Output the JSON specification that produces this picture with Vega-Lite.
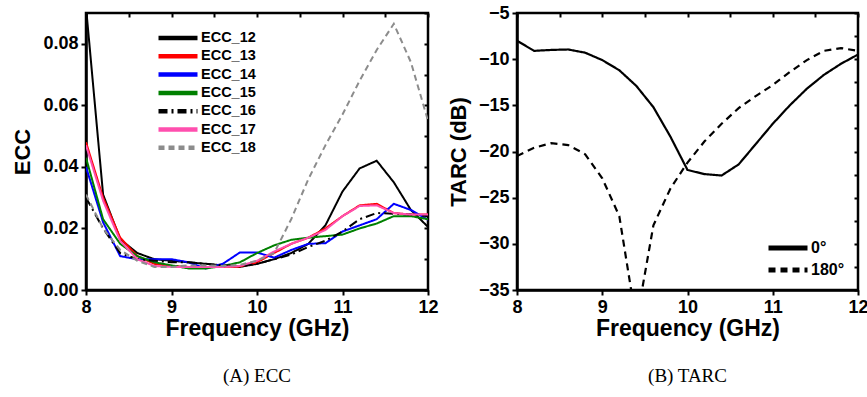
{
  "$schema": "https://vega.github.io/schema/vega-lite/v6.json",
  "background": "white",
  "padding": {"left": 10, "top": 2, "right": 8, "bottom": 5},
  "spacing": 6,
  "resolve": {"scale": {"strokeDash": "independent", "color": "independent"}, "legend": {"strokeDash": "independent", "color": "independent"}},
  "config": {
    "view": {"stroke": "black", "strokeWidth": 2.5},
    "axis": {
      "grid": false, "domainColor": "black", "domainWidth": 2.5,
      "tickColor": "black", "tickWidth": 2, "tickSize": 5,
      "labelFont": "Liberation Sans", "labelFontSize": 18, "labelFontWeight": "bold", "labelColor": "black",
      "labelPadding": 3, "labelFlush": false,
      "titleFont": "Liberation Sans", "titleFontSize": 22, "titleFontWeight": "bold", "titleColor": "black"
    },
    "title": {"font": "Liberation Serif", "fontSize": 19, "fontWeight": "normal", "color": "black"}
  },
  "datasets": {
    "ecc": [
      {"f": 8.0, "s": "ECC_12", "v": 0.092}, {"f": 8.2, "s": "ECC_12", "v": 0.031}, {"f": 8.4, "s": "ECC_12", "v": 0.0165}, {"f": 8.6, "s": "ECC_12", "v": 0.012}, {"f": 8.8, "s": "ECC_12", "v": 0.010}, {"f": 9.0, "s": "ECC_12", "v": 0.0095}, {"f": 9.2, "s": "ECC_12", "v": 0.009}, {"f": 9.4, "s": "ECC_12", "v": 0.0085}, {"f": 9.6, "s": "ECC_12", "v": 0.008}, {"f": 9.8, "s": "ECC_12", "v": 0.0075}, {"f": 10.0, "s": "ECC_12", "v": 0.0085}, {"f": 10.2, "s": "ECC_12", "v": 0.010}, {"f": 10.4, "s": "ECC_12", "v": 0.012}, {"f": 10.6, "s": "ECC_12", "v": 0.015}, {"f": 10.8, "s": "ECC_12", "v": 0.021}, {"f": 11.0, "s": "ECC_12", "v": 0.032}, {"f": 11.2, "s": "ECC_12", "v": 0.0395}, {"f": 11.4, "s": "ECC_12", "v": 0.042}, {"f": 11.6, "s": "ECC_12", "v": 0.035}, {"f": 11.8, "s": "ECC_12", "v": 0.026}, {"f": 12.0, "s": "ECC_12", "v": 0.0205},
      {"f": 8.0, "s": "ECC_13", "v": 0.048}, {"f": 8.2, "s": "ECC_13", "v": 0.030}, {"f": 8.4, "s": "ECC_13", "v": 0.017}, {"f": 8.6, "s": "ECC_13", "v": 0.011}, {"f": 8.8, "s": "ECC_13", "v": 0.0085}, {"f": 9.0, "s": "ECC_13", "v": 0.0078}, {"f": 9.2, "s": "ECC_13", "v": 0.0075}, {"f": 9.4, "s": "ECC_13", "v": 0.0075}, {"f": 9.6, "s": "ECC_13", "v": 0.0075}, {"f": 9.8, "s": "ECC_13", "v": 0.0076}, {"f": 10.0, "s": "ECC_13", "v": 0.009}, {"f": 10.2, "s": "ECC_13", "v": 0.012}, {"f": 10.4, "s": "ECC_13", "v": 0.015}, {"f": 10.6, "s": "ECC_13", "v": 0.017}, {"f": 10.8, "s": "ECC_13", "v": 0.020}, {"f": 11.0, "s": "ECC_13", "v": 0.024}, {"f": 11.2, "s": "ECC_13", "v": 0.0275}, {"f": 11.4, "s": "ECC_13", "v": 0.028}, {"f": 11.6, "s": "ECC_13", "v": 0.025}, {"f": 11.8, "s": "ECC_13", "v": 0.0245}, {"f": 12.0, "s": "ECC_13", "v": 0.0245},
      {"f": 8.0, "s": "ECC_14", "v": 0.040}, {"f": 8.2, "s": "ECC_14", "v": 0.022}, {"f": 8.4, "s": "ECC_14", "v": 0.011}, {"f": 8.6, "s": "ECC_14", "v": 0.010}, {"f": 8.8, "s": "ECC_14", "v": 0.010}, {"f": 9.0, "s": "ECC_14", "v": 0.010}, {"f": 9.2, "s": "ECC_14", "v": 0.009}, {"f": 9.4, "s": "ECC_14", "v": 0.007}, {"f": 9.6, "s": "ECC_14", "v": 0.0085}, {"f": 9.8, "s": "ECC_14", "v": 0.0122}, {"f": 10.0, "s": "ECC_14", "v": 0.0122}, {"f": 10.2, "s": "ECC_14", "v": 0.0105}, {"f": 10.4, "s": "ECC_14", "v": 0.013}, {"f": 10.6, "s": "ECC_14", "v": 0.015}, {"f": 10.8, "s": "ECC_14", "v": 0.0152}, {"f": 11.0, "s": "ECC_14", "v": 0.019}, {"f": 11.2, "s": "ECC_14", "v": 0.021}, {"f": 11.4, "s": "ECC_14", "v": 0.023}, {"f": 11.6, "s": "ECC_14", "v": 0.028}, {"f": 11.8, "s": "ECC_14", "v": 0.026}, {"f": 12.0, "s": "ECC_14", "v": 0.0228},
      {"f": 8.0, "s": "ECC_15", "v": 0.043}, {"f": 8.2, "s": "ECC_15", "v": 0.023}, {"f": 8.4, "s": "ECC_15", "v": 0.015}, {"f": 8.6, "s": "ECC_15", "v": 0.011}, {"f": 8.8, "s": "ECC_15", "v": 0.009}, {"f": 9.0, "s": "ECC_15", "v": 0.008}, {"f": 9.2, "s": "ECC_15", "v": 0.007}, {"f": 9.4, "s": "ECC_15", "v": 0.007}, {"f": 9.6, "s": "ECC_15", "v": 0.0078}, {"f": 9.8, "s": "ECC_15", "v": 0.009}, {"f": 10.0, "s": "ECC_15", "v": 0.012}, {"f": 10.2, "s": "ECC_15", "v": 0.0145}, {"f": 10.4, "s": "ECC_15", "v": 0.0163}, {"f": 10.6, "s": "ECC_15", "v": 0.017}, {"f": 10.8, "s": "ECC_15", "v": 0.0175}, {"f": 11.0, "s": "ECC_15", "v": 0.018}, {"f": 11.2, "s": "ECC_15", "v": 0.020}, {"f": 11.4, "s": "ECC_15", "v": 0.0216}, {"f": 11.6, "s": "ECC_15", "v": 0.024}, {"f": 11.8, "s": "ECC_15", "v": 0.024}, {"f": 12.0, "s": "ECC_15", "v": 0.023},
      {"f": 8.0, "s": "ECC_16", "v": 0.030}, {"f": 8.2, "s": "ECC_16", "v": 0.020}, {"f": 8.4, "s": "ECC_16", "v": 0.012}, {"f": 8.6, "s": "ECC_16", "v": 0.010}, {"f": 8.8, "s": "ECC_16", "v": 0.0095}, {"f": 9.0, "s": "ECC_16", "v": 0.009}, {"f": 9.2, "s": "ECC_16", "v": 0.009}, {"f": 9.4, "s": "ECC_16", "v": 0.0085}, {"f": 9.6, "s": "ECC_16", "v": 0.008}, {"f": 9.8, "s": "ECC_16", "v": 0.0078}, {"f": 10.0, "s": "ECC_16", "v": 0.0085}, {"f": 10.2, "s": "ECC_16", "v": 0.0100}, {"f": 10.4, "s": "ECC_16", "v": 0.0115}, {"f": 10.6, "s": "ECC_16", "v": 0.014}, {"f": 10.8, "s": "ECC_16", "v": 0.016}, {"f": 11.0, "s": "ECC_16", "v": 0.019}, {"f": 11.2, "s": "ECC_16", "v": 0.023}, {"f": 11.4, "s": "ECC_16", "v": 0.025}, {"f": 11.6, "s": "ECC_16", "v": 0.0248}, {"f": 11.8, "s": "ECC_16", "v": 0.0245}, {"f": 12.0, "s": "ECC_16", "v": 0.024},
      {"f": 8.0, "s": "ECC_17", "v": 0.047}, {"f": 8.2, "s": "ECC_17", "v": 0.029}, {"f": 8.4, "s": "ECC_17", "v": 0.016}, {"f": 8.6, "s": "ECC_17", "v": 0.010}, {"f": 8.8, "s": "ECC_17", "v": 0.0078}, {"f": 9.0, "s": "ECC_17", "v": 0.0075}, {"f": 9.2, "s": "ECC_17", "v": 0.0075}, {"f": 9.4, "s": "ECC_17", "v": 0.0075}, {"f": 9.6, "s": "ECC_17", "v": 0.0075}, {"f": 9.8, "s": "ECC_17", "v": 0.0078}, {"f": 10.0, "s": "ECC_17", "v": 0.0095}, {"f": 10.2, "s": "ECC_17", "v": 0.0125}, {"f": 10.4, "s": "ECC_17", "v": 0.015}, {"f": 10.6, "s": "ECC_17", "v": 0.017}, {"f": 10.8, "s": "ECC_17", "v": 0.0195}, {"f": 11.0, "s": "ECC_17", "v": 0.024}, {"f": 11.2, "s": "ECC_17", "v": 0.0273}, {"f": 11.4, "s": "ECC_17", "v": 0.0275}, {"f": 11.6, "s": "ECC_17", "v": 0.025}, {"f": 11.8, "s": "ECC_17", "v": 0.0245}, {"f": 12.0, "s": "ECC_17", "v": 0.0245},
      {"f": 8.0, "s": "ECC_18", "v": 0.031}, {"f": 8.2, "s": "ECC_18", "v": 0.020}, {"f": 8.4, "s": "ECC_18", "v": 0.013}, {"f": 8.6, "s": "ECC_18", "v": 0.0095}, {"f": 8.8, "s": "ECC_18", "v": 0.0075}, {"f": 9.0, "s": "ECC_18", "v": 0.0075}, {"f": 9.2, "s": "ECC_18", "v": 0.008}, {"f": 9.4, "s": "ECC_18", "v": 0.008}, {"f": 9.6, "s": "ECC_18", "v": 0.0078}, {"f": 9.8, "s": "ECC_18", "v": 0.0082}, {"f": 10.0, "s": "ECC_18", "v": 0.0095}, {"f": 10.2, "s": "ECC_18", "v": 0.012}, {"f": 10.4, "s": "ECC_18", "v": 0.023}, {"f": 10.6, "s": "ECC_18", "v": 0.036}, {"f": 10.8, "s": "ECC_18", "v": 0.047}, {"f": 11.0, "s": "ECC_18", "v": 0.057}, {"f": 11.2, "s": "ECC_18", "v": 0.068}, {"f": 11.4, "s": "ECC_18", "v": 0.078}, {"f": 11.6, "s": "ECC_18", "v": 0.0865}, {"f": 11.8, "s": "ECC_18", "v": 0.074}, {"f": 12.0, "s": "ECC_18", "v": 0.055}
    ],
    "tarc": [
      {"f": 8.0, "s": "0°", "v": -8.0}, {"f": 8.2, "s": "0°", "v": -9.1}, {"f": 8.4, "s": "0°", "v": -9.0}, {"f": 8.6, "s": "0°", "v": -8.95}, {"f": 8.8, "s": "0°", "v": -9.3}, {"f": 9.0, "s": "0°", "v": -10.1}, {"f": 9.2, "s": "0°", "v": -11.2}, {"f": 9.4, "s": "0°", "v": -12.9}, {"f": 9.6, "s": "0°", "v": -15.2}, {"f": 9.8, "s": "0°", "v": -18.4}, {"f": 10.0, "s": "0°", "v": -22.0}, {"f": 10.2, "s": "0°", "v": -22.45}, {"f": 10.4, "s": "0°", "v": -22.6}, {"f": 10.6, "s": "0°", "v": -21.4}, {"f": 10.8, "s": "0°", "v": -19.2}, {"f": 11.0, "s": "0°", "v": -17.0}, {"f": 11.2, "s": "0°", "v": -15.0}, {"f": 11.4, "s": "0°", "v": -13.2}, {"f": 11.6, "s": "0°", "v": -11.7}, {"f": 11.8, "s": "0°", "v": -10.5}, {"f": 12.0, "s": "0°", "v": -9.5},
      {"f": 8.0, "s": "180°", "v": -20.5}, {"f": 8.2, "s": "180°", "v": -19.6}, {"f": 8.4, "s": "180°", "v": -19.1}, {"f": 8.6, "s": "180°", "v": -19.3}, {"f": 8.8, "s": "180°", "v": -20.3}, {"f": 9.0, "s": "180°", "v": -22.9}, {"f": 9.2, "s": "180°", "v": -27.0}, {"f": 9.4, "s": "180°", "v": -38.5}, {"f": 9.6, "s": "180°", "v": -28.0}, {"f": 9.8, "s": "180°", "v": -24.0}, {"f": 10.0, "s": "180°", "v": -21.2}, {"f": 10.2, "s": "180°", "v": -18.9}, {"f": 10.4, "s": "180°", "v": -17.0}, {"f": 10.6, "s": "180°", "v": -15.3}, {"f": 10.8, "s": "180°", "v": -14.0}, {"f": 11.0, "s": "180°", "v": -12.8}, {"f": 11.2, "s": "180°", "v": -11.4}, {"f": 11.4, "s": "180°", "v": -10.1}, {"f": 11.6, "s": "180°", "v": -9.1}, {"f": 11.8, "s": "180°", "v": -8.8}, {"f": 12.0, "s": "180°", "v": -9.1}
    ]
  },
  "hconcat": [
    {
      "width": 342, "height": 277,
      "view": {"stroke": "black", "strokeWidth": 2.5},
      "title": {"text": "(A) ECC", "orient": "bottom", "offset": 27},
      "data": {"name": "ecc"},
      "layer": [
        {
          "mark": {"type": "line", "strokeWidth": 2, "clip": true},
          "encoding": {
            "x": {"field": "f", "type": "quantitative", "scale": {"domain": [8, 12], "nice": false, "zero": false},
                  "axis": {"values": [8, 9, 10, 11, 12], "title": "Frequency (GHz)", "labelPadding": 3, "titlePadding": 1, "titleFontSize": 23}},
            "y": {"field": "v", "type": "quantitative", "scale": {"domain": [0, 0.09], "nice": false},
                  "axis": {"values": [0, 0.02, 0.04, 0.06, 0.08], "format": ".2f", "title": "ECC", "titlePadding": 8}},
            "color": {"field": "s", "type": "nominal",
                      "scale": {"domain": ["ECC_12", "ECC_13", "ECC_14", "ECC_15", "ECC_16", "ECC_17", "ECC_18"],
                                "range": ["#000000", "#ff0000", "#0000ff", "#008000", "#000000", "#ff4fae", "#8c8c8c"]},
                      "legend": {"orient": "none", "legendX": 83, "legendY": 16, "title": null, "symbolType": "M-3,0H3", "symbolSize": 169, "symbolStrokeWidth": 4.5, "labelFont": "Liberation Sans", "labelFontSize": 14.5, "labelFontWeight": "bold", "labelColor": "black", "labelOffset": 14, "rowPadding": 0.3}},
            "strokeDash": {"field": "s", "type": "nominal",
                      "scale": {"domain": ["ECC_12", "ECC_13", "ECC_14", "ECC_15", "ECC_16", "ECC_17", "ECC_18"],
                                "range": [[1, 0], [1, 0], [1, 0], [1, 0], [9, 4, 2, 4], [1, 0], [6, 4]]},
                      "legend": {"orient": "none", "legendX": 83, "legendY": 16, "title": null, "symbolType": "M-3,0H3", "symbolSize": 169, "symbolStrokeWidth": 4.5, "labelFont": "Liberation Sans", "labelFontSize": 14.5, "labelFontWeight": "bold", "labelColor": "black", "labelOffset": 14, "rowPadding": 0.3}}
          }
        },
        {
          "mark": {"type": "point", "opacity": 0},
          "encoding": {
            "x": {"field": "f", "type": "quantitative", "axis": {"orient": "top", "values": [8, 8.5, 9, 9.5, 10, 10.5, 11, 11.5, 12], "labels": false, "title": null, "tickSize": 4, "offset": -4, "domain": false}},
            "y": {"field": "v", "type": "quantitative", "axis": {"orient": "right", "values": [0, 0.01, 0.02, 0.03, 0.04, 0.05, 0.06, 0.07, 0.08, 0.09], "labels": false, "title": null, "tickSize": 4, "offset": -4, "domain": false}}
          }
        }
      ],
      "resolve": {"axis": {"x": "independent", "y": "independent"}}
    },
    {
      "width": 341, "height": 277,
      "view": {"stroke": "black", "strokeWidth": 2.5},
      "title": {"text": "(B) TARC", "orient": "bottom", "offset": 27},
      "data": {"name": "tarc"},
      "layer": [
        {
          "mark": {"type": "line", "strokeWidth": 2.2, "clip": true, "color": "black"},
          "encoding": {
            "x": {"field": "f", "type": "quantitative", "scale": {"domain": [8, 12], "nice": false, "zero": false},
                  "axis": {"values": [8, 9, 10, 11, 12], "title": "Frequency (GHz)", "labelPadding": 3, "titlePadding": 1, "titleFontSize": 23}},
            "y": {"field": "v", "type": "quantitative", "scale": {"domain": [-35, -5], "nice": false, "zero": false},
                  "axis": {"values": [-35, -30, -25, -20, -15, -10, -5], "title": "TARC (dB)", "titlePadding": 8}},
            "strokeDash": {"field": "s", "type": "nominal",
                      "scale": {"domain": ["0°", "180°"], "range": [[1, 0], [7, 5]]},
                      "legend": {"orient": "none", "legendX": 262, "legendY": 226, "title": null, "symbolType": "M-3,0H3", "symbolSize": 169, "symbolStrokeWidth": 5, "symbolStrokeColor": "black", "labelFont": "Liberation Sans", "labelFontSize": 16, "labelFontWeight": "bold", "labelColor": "black", "labelOffset": 14, "rowPadding": 2}}
          }
        },
        {
          "mark": {"type": "point", "opacity": 0},
          "encoding": {
            "x": {"field": "f", "type": "quantitative", "axis": {"orient": "top", "values": [8, 8.5, 9, 9.5, 10, 10.5, 11, 11.5, 12], "labels": false, "title": null, "tickSize": 4, "offset": -4, "domain": false}},
            "y": {"field": "v", "type": "quantitative", "axis": {"orient": "right", "values": [-35, -32.5, -30, -27.5, -25, -22.5, -20, -17.5, -15, -12.5, -10, -7.5, -5], "labels": false, "title": null, "tickSize": 4, "offset": -4, "domain": false}}
          }
        }
      ],
      "resolve": {"axis": {"x": "independent", "y": "independent"}}
    }
  ]
}
